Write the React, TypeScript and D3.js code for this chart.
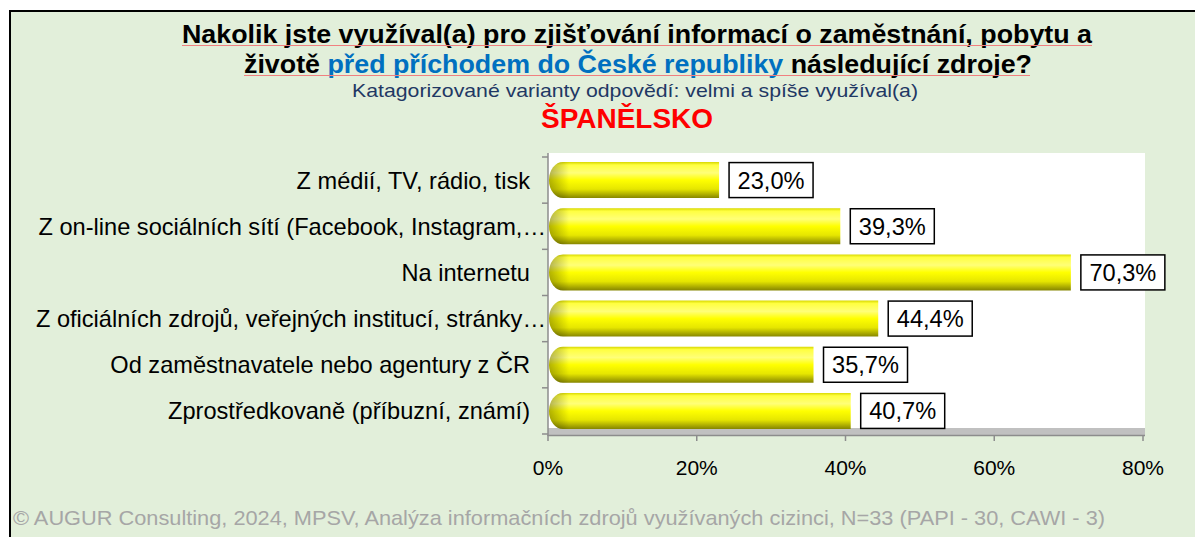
import React from "react";
import * as d3 from "d3";

const categories = [
  "Z médií, TV, rádio, tisk",
  "Z on-line sociálních sítí (Facebook, Instagram,…",
  "Na internetu",
  "Z oficiálních zdrojů, veřejných institucí, stránky…",
  "Od zaměstnavatele nebo agentury z ČR",
  "Zprostředkovaně (příbuzní, známí)",
];
const values = [23.0, 39.3, 70.3, 44.4, 35.7, 40.7];
const xTicks = [0, 20, 40, 60, 80];

const titleLine1 = "Nakolik jste využíval(a) pro zjišťování informací o zaměstnání, pobytu a";
const titleLine2a = "životě ";
const titleLine2b = "před příchodem do České republiky";
const titleLine2c = " následující zdroje?";
const subtitle = "Katagorizované varianty odpovědí: velmi a spíše využíval(a)";
const country = "ŠPANĚLSKO";
const footer = "© AUGUR Consulting, 2024, MPSV, Analýza informačních zdrojů využívaných cizinci, N=33 (PAPI - 30, CAWI - 3)";

const W = 1195;
const H = 537;
const FONT = "'Liberation Sans', Arial, sans-serif";

const locale = d3.formatLocale({ decimal: ",", thousands: " ", grouping: [3], currency: ["", " Kč"] });
const fmt = locale.format(".1f");

export default function App() {
  const plotL = 548;
  const plotR = 1145;
  const plotT = 157;
  const plotB = 434;
  const x = d3.scaleLinear().domain([0, 80]).range([plotL, 1143]);
  const y = d3.scaleBand<string>().domain(categories).range([plotT, plotB]).paddingInner(0.22).paddingOuter(0.11);
  const bh = y.bandwidth();
  const cap = 14;

  const barPath = (w: number, h: number) => {
    const r = Math.min(cap, w);
    return `M${r},0 L${w},0 L${w},${h} L${r},${h} A${r},${h / 2} 0 0 1 ${r},0 Z`;
  };

  return (
    <svg width={W} height={H} style={{ position: "absolute", left: 0, top: 0, fontFamily: FONT }}>
      <defs>
        <linearGradient id="barV" x1="0" y1="0" x2="0" y2="1">
          <stop offset="0" stopColor="#d8d800" />
          <stop offset="0.08" stopColor="#ffff40" />
          <stop offset="0.3" stopColor="#ffff78" />
          <stop offset="0.5" stopColor="#ffff00" />
          <stop offset="0.75" stopColor="#e6e600" />
          <stop offset="1" stopColor="#868600" />
        </linearGradient>
        <linearGradient id="capH" x1="0" y1="0" x2="1" y2="0">
          <stop offset="0" stopColor="#000" stopOpacity="0.3" />
          <stop offset="1" stopColor="#000" stopOpacity="0" />
        </linearGradient>
      </defs>
      <rect x={0} y={0} width={W} height={H} fill="#ffffff" />
      <rect x={10} y={11} width={W + 10} height={H + 10} fill="#e2efda" stroke="#000" strokeWidth={2} />

      {/* Title */}
      <text x={637} y={43} textAnchor="middle" fontSize={26} fontWeight="bold" fill="#000" textLength={910} lengthAdjust="spacingAndGlyphs">
        {titleLine1}
      </text>
      <line x1={182} x2={1092} y1={45.5} y2={45.5} stroke="#f08080" strokeWidth={1} />
      <text x={638} y={73} textAnchor="middle" fontSize={26} fontWeight="bold" fill="#000" textLength={788} lengthAdjust="spacingAndGlyphs">
        <tspan>{titleLine2a}</tspan>
        <tspan fill="#0070c0">{titleLine2b}</tspan>
        <tspan>{titleLine2c}</tspan>
      </text>
      <line x1={244} x2={1030} y1={75.5} y2={75.5} stroke="#f08080" strokeWidth={1} />
      <text x={635} y={97} textAnchor="middle" fontSize={19} fill="#1f3864" textLength={566} lengthAdjust="spacingAndGlyphs">
        {subtitle}
      </text>
      <text x={627} y={128} textAnchor="middle" fontSize={27} fontWeight="bold" fill="#ff0000" textLength={172} lengthAdjust="spacingAndGlyphs">
        {country}
      </text>

      {/* Plot area */}
      <rect x={plotL} y={153} width={plotR - plotL} height={plotB - 153} fill="#ffffff" />
      <rect x={plotL} y={428} width={plotR - plotL} height={7} fill="#c0c0c0" />
      <line x1={plotL} x2={plotR} y1={435.5} y2={435.5} stroke="#8c8c8c" strokeWidth={1.5} />
      <line x1={plotL} x2={plotL} y1={153} y2={436} stroke="#8c8c8c" strokeWidth={1.5} />
      {xTicks.map((t) => (
        <g key={t}>
          <line x1={x(t)} x2={x(t)} y1={435} y2={441} stroke="#8c8c8c" strokeWidth={1.5} />
          <text x={x(t)} y={475} textAnchor="middle" fontSize={21} fill="#000">
            {t}%
          </text>
        </g>
      ))}
      {d3.range(categories.length + 1).map((i) => {
        const yy = plotT + (i * (plotB - plotT)) / categories.length;
        return <line key={i} x1={plotL - 6} x2={plotL} y1={yy} y2={yy} stroke="#8c8c8c" strokeWidth={1.5} />;
      })}

      {categories.map((c, i) => {
        const y0 = y(c)!;
        const w = x(values[i]) - x(0);
        const trunc = c.endsWith("…");
        const lx = x(values[i]) + 10;
        const label = fmt(values[i]) + "%";
        const bw = 84;
        return (
          <g key={c}>
            <text x={trunc ? 546 : 530} y={y0 + bh / 2 + 8.5} textAnchor="end" fontSize={23.6} fill="#000">
              {c}
            </text>
            <g transform={`translate(${x(0) + 1},${y0})`}>
              <path d={barPath(w - 1, bh)} fill="url(#barV)" />
              <path d={barPath(Math.min(w - 1, cap + 6), bh)} fill="url(#capH)" />
            </g>
            <rect x={lx} y={y0 + 0.5} width={bw} height={bh - 1} fill="#fff" stroke="#000" strokeWidth={1.5} />
            <text x={lx + bw / 2} y={y0 + bh / 2 + 8.5} textAnchor="middle" fontSize={23.6} fill="#000">
              {label}
            </text>
          </g>
        );
      })}

      <text x={13} y={525} fontSize={21} fill="#a6a6a6" textLength={1092} lengthAdjust="spacingAndGlyphs">
        {footer}
      </text>
    </svg>
  );
}
